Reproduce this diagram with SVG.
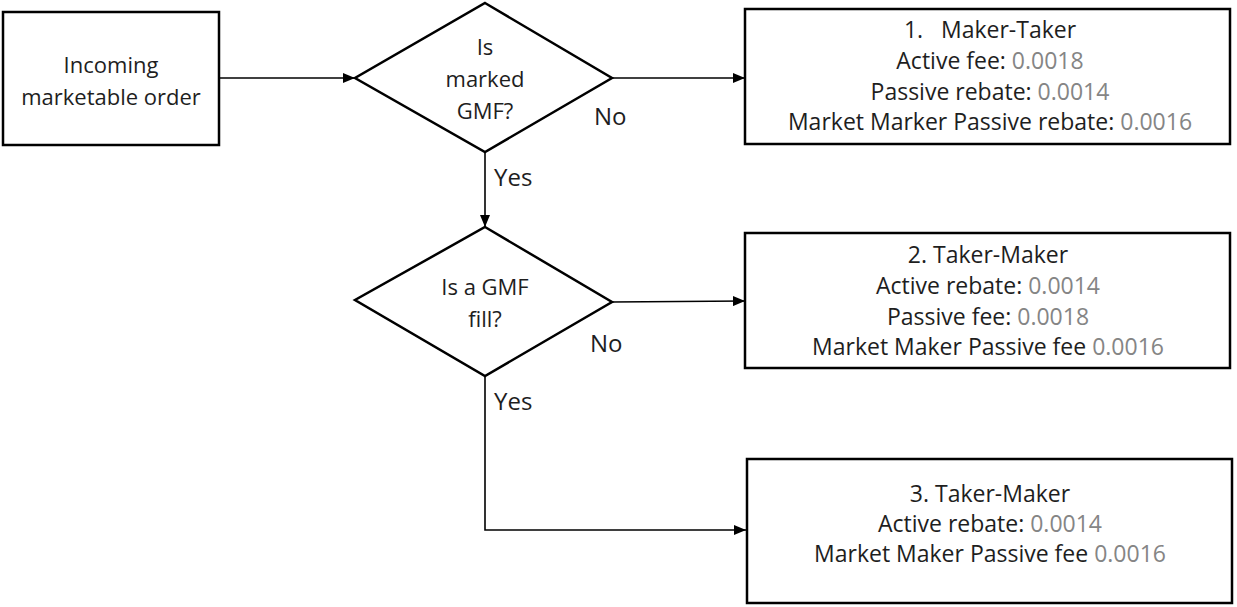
<svg xmlns="http://www.w3.org/2000/svg" width="1237" height="607" viewBox="0 0 1237 607">
<style>
.box{fill:#fff;stroke:#000;stroke-width:2.5}
.t{font-family:"Open Sans","Liberation Sans",Arial,sans-serif;font-size:22px;fill:#1e1e1e;text-anchor:middle}
.b{font-size:23px}
.l{font-family:"Open Sans","Liberation Sans",Arial,sans-serif;font-size:24px;fill:#1e1e1e}
.g{fill:#858585}
.c{fill:none;stroke:#000;stroke-width:1.6}
</style>
<defs>
<marker id="ah" markerWidth="12" markerHeight="10" refX="12" refY="5" orient="auto" markerUnits="userSpaceOnUse">
<path d="M0,0 L12,5 L0,10 Z" fill="#000"/>
</marker>
</defs>
<rect width="1237" height="607" fill="#fff"/>
<g id="connectors">
<line class="c" x1="219" y1="78" x2="355" y2="78" marker-end="url(#ah)"/>
<line class="c" x1="612" y1="78" x2="745" y2="78" marker-end="url(#ah)"/>
<line class="c" x1="485" y1="152" x2="485" y2="227" marker-end="url(#ah)"/>
<line class="c" x1="612" y1="302" x2="745" y2="301" marker-end="url(#ah)"/>
<polyline class="c" points="485,376 485,530 746,530" marker-end="url(#ah)"/>
<text class="l" x="594" y="125">No</text>
<text class="l" x="494" y="186">Yes</text>
<text class="l" x="590" y="352">No</text>
<text class="l" x="494" y="410">Yes</text>
</g>
<g id="incoming">
<rect class="box" x="3" y="12" width="216" height="133"/>
<text class="t" x="111" y="73">Incoming</text>
<text class="t" x="111" y="105">marketable order</text>
</g>
<g id="decision1">
<polygon class="box" points="485,3 612,78 485,152 355,78"/>
<text class="t" x="485" y="55">Is</text>
<text class="t" x="485" y="87">marked</text>
<text class="t" x="485" y="119">GMF?</text>
</g>
<g id="decision2">
<polygon class="box" points="485,227 612,302 485,376 355,300"/>
<text class="t" x="485" y="295">Is a GMF</text>
<text class="t" x="485" y="327">fill?</text>
</g>
<g id="maker-taker">
<rect class="box" x="745" y="9" width="485" height="135"/>
<text class="t b" x="990" y="38" xml:space="preserve">1.   Maker-Taker</text>
<text class="t b" x="990" y="69">Active fee: <tspan class="g">0.0018</tspan></text>
<text class="t b" x="990" y="100">Passive rebate: <tspan class="g">0.0014</tspan></text>
<text class="t b" x="990" y="130">Market Marker Passive rebate: <tspan class="g">0.0016</tspan></text>
</g>
<g id="taker-maker-2">
<rect class="box" x="745" y="233" width="485" height="135"/>
<text class="t b" x="988" y="263">2. Taker-Maker</text>
<text class="t b" x="988" y="294">Active rebate: <tspan class="g">0.0014</tspan></text>
<text class="t b" x="988" y="325">Passive fee: <tspan class="g">0.0018</tspan></text>
<text class="t b" x="988" y="355">Market Maker Passive fee <tspan class="g">0.0016</tspan></text>
</g>
<g id="taker-maker-3">
<rect class="box" x="747" y="459" width="485" height="144"/>
<text class="t b" x="990" y="502">3. Taker-Maker</text>
<text class="t b" x="990" y="532">Active rebate: <tspan class="g">0.0014</tspan></text>
<text class="t b" x="990" y="562">Market Maker Passive fee <tspan class="g">0.0016</tspan></text>
</g>
</svg>
